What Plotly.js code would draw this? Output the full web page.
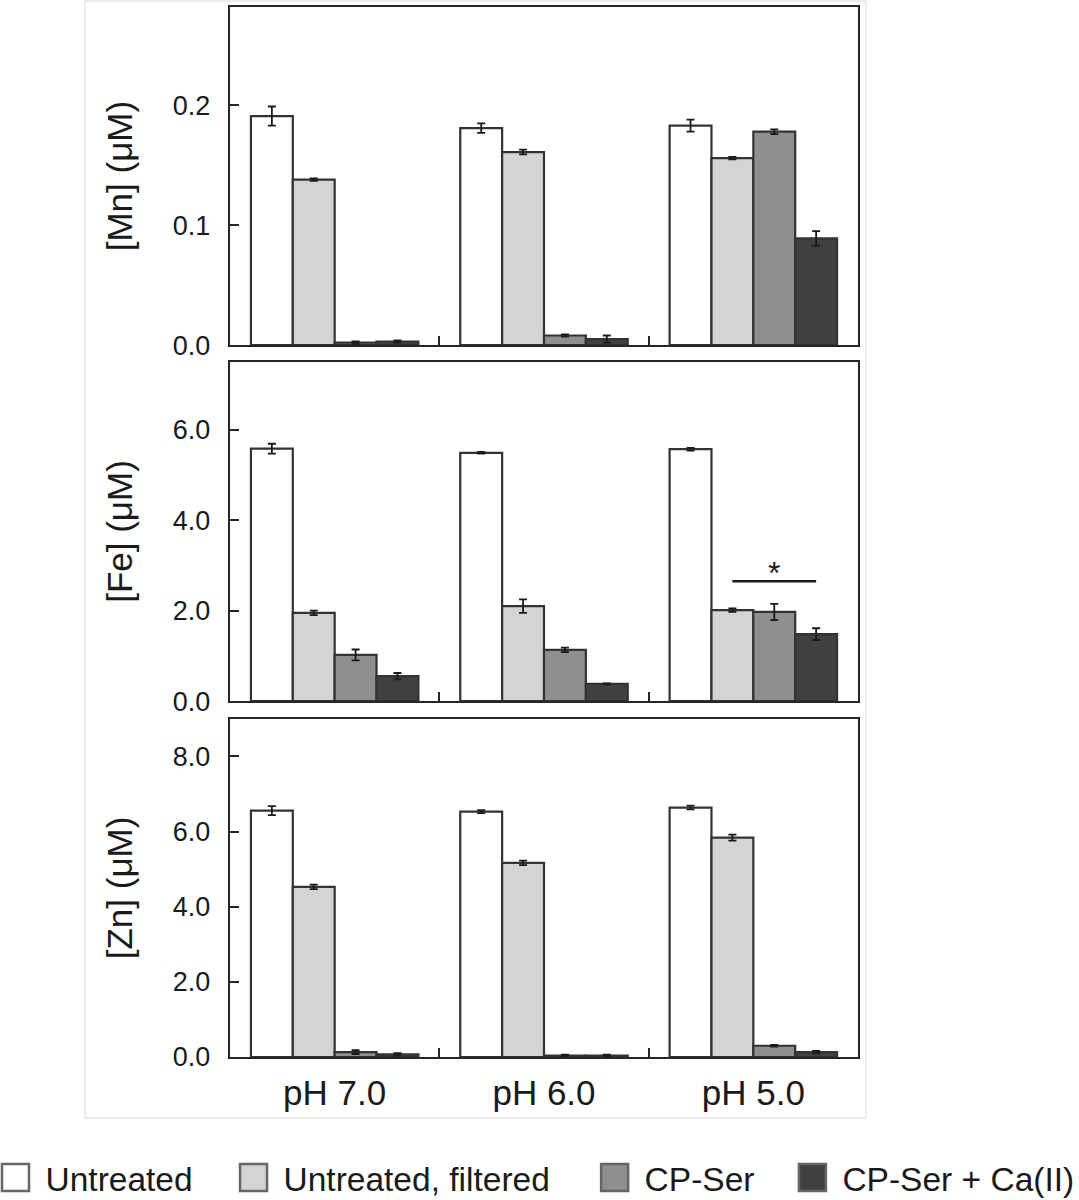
<!DOCTYPE html>
<html>
<head>
<meta charset="utf-8">
<script src="https://cdn.plot.ly/plotly-3.0.1.min.js"></script>
<style>
  html, body { margin: 0; padding: 0; background: #fff; }
  #chart { width: 1079px; height: 1200px; }
</style>
</head>
<body>
<div id="chart"></div>
<script>
// categories and series
var categories = ['pH 7.0', 'pH 6.0', 'pH 5.0'];
var seriesNames = ['Untreated', 'Untreated, filtered', 'CP-Ser', 'CP-Ser + Ca(II)'];
var seriesColors = ['#ffffff', '#d4d4d4', '#8f8f8f', '#404040'];

// [Mn] (uM), one row per series, columns follow categories
var mnMean = [
    [0.191, 0.181, 0.183],
    [0.138, 0.161, 0.156],
    [0.002, 0.008, 0.178],
    [0.003, 0.005, 0.089]
];
var mnErr = [
    [0.008, 0.004, 0.005],
    [0.001, 0.002, 0.001],
    [0.001, 0.001, 0.002],
    [0.001, 0.003, 0.006]
];

// [Fe] (uM)
var feMean = [
    [5.58, 5.49, 5.57],
    [1.95, 2.10, 2.01],
    [1.02, 1.13, 1.97],
    [0.55, 0.38, 1.48]
];
var feErr = [
    [0.11, 0.02, 0.03],
    [0.05, 0.15, 0.04],
    [0.12, 0.05, 0.18],
    [0.07, 0.01, 0.13]
];

// [Zn] (uM)
var znMean = [
    [6.56, 6.53, 6.64],
    [4.53, 5.17, 5.84],
    [0.13, 0.04, 0.30],
    [0.07, 0.04, 0.13]
];
var znErr = [
    [0.12, 0.04, 0.05],
    [0.06, 0.06, 0.08],
    [0.05, 0.02, 0.02],
    [0.03, 0.02, 0.03]
];

// significance bracket in the Fe panel (pH 5.0, filtered vs CP-Ser + Ca)
var sigFrom = 1.9;
var sigTo = 2.3;
var sigLevel = 2.65;

var fontFamily = 'Arial, "Liberation Sans", Helvetica, sans-serif';
var ink = '#262626';

function panelTraces(means, errs, xa, ya, withLegend) {
    return means.map(function (vals, i) {
        return {
            type: 'bar',
            name: seriesNames[i],
            x: categories,
            y: vals,
            xaxis: xa,
            yaxis: ya,
            legend: i === 0 ? 'legend' : 'legend' + (i + 1),
            showlegend: withLegend,
            marker: { color: seriesColors[i], line: { color: '#333333', width: 2.2 } },
            error_y: { type: 'data', array: errs[i], visible: true, color: '#1a1a1a', thickness: 1.8, width: 4 },
            hovertemplate: seriesNames[i] + '<br>%{x}: %{y}<extra></extra>'
        };
    });
}

var data = []
    .concat(panelTraces(mnMean, mnErr, 'x', 'y', true))
    .concat(panelTraces(feMean, feErr, 'x2', 'y2', false))
    .concat(panelTraces(znMean, znErr, 'x3', 'y3', false));

function xAxis(showLabels, anchor) {
    return {
        anchor: anchor,
        type: 'category',
        range: [-0.5, 2.5],
        showline: true,
        mirror: true,
        linecolor: ink,
        linewidth: 2.2,
        ticks: 'inside',
        tickson: 'boundaries',
        ticklen: 9,
        tickwidth: 2,
        tickcolor: ink,
        showticklabels: showLabels,
        ticklabelstandoff: 4,
        tickfont: { family: fontFamily, size: 35, color: '#1a1a1a' },
        showgrid: false,
        zeroline: false,
        fixedrange: true
    };
}

function yAxis(title, range, vals, fmt, domain, anchor) {
    return {
        anchor: anchor,
        domain: domain,
        range: range,
        tickvals: vals,
        tickformat: fmt,
        showline: true,
        mirror: true,
        linecolor: ink,
        linewidth: 2.2,
        ticks: 'inside',
        ticklen: 9,
        tickwidth: 2,
        tickcolor: ink,
        ticklabelstandoff: 12,
        tickfont: { family: fontFamily, size: 27, color: '#1a1a1a' },
        title: { text: title, font: { family: fontFamily, size: 35, color: '#1a1a1a' }, standoff: 30 },
        showgrid: false,
        zeroline: false,
        fixedrange: true
    };
}

function legendAt(x) {
    return {
        orientation: 'h',
        x: x,
        xanchor: 'left',
        y: -0.115,
        yanchor: 'middle',
        itemwidth: 41,
        bgcolor: 'rgba(0,0,0,0)',
        borderwidth: 0,
        font: { family: fontFamily, size: 33.5, color: '#1a1a1a' }
    };
}

var layout = {
    width: 1079,
    height: 1200,
    margin: { l: 230, r: 221, t: 7, b: 143, autoexpand: false },
    paper_bgcolor: '#ffffff',
    plot_bgcolor: '#ffffff',
    barmode: 'group',
    bargap: 0.2,
    bargroupgap: 0,
    font: { family: fontFamily, color: '#1a1a1a' },
    xaxis: xAxis(false, 'y'),
    xaxis2: xAxis(false, 'y2'),
    xaxis3: xAxis(true, 'y3'),
    yaxis: yAxis('[Mn] (\u03bcM)', [0, 0.282], [0, 0.1, 0.2], '.1f', [0.678, 1], 'x'),
    yaxis2: yAxis('[Fe] (\u03bcM)', [0, 7.5], [0, 2, 4, 6], '.1f', [0.339, 0.662], 'x2'),
    yaxis3: yAxis('[Zn] (\u03bcM)', [0, 9.0], [0, 2, 4, 6, 8], '.1f', [0, 0.322], 'x3'),
    legend: legendAt(-0.375),
    legend2: legendAt(0.004),
    legend3: legendAt(0.579),
    legend4: legendAt(0.894),
    shapes: [
        {
            type: 'rect', xref: 'paper', yref: 'paper',
            x0: -0.2309, x1: 1.0127, y0: -0.0581, y1: 1.0057,
            line: { color: '#e6e6e6', width: 1.5 },
            layer: 'below'
        },
        {
            type: 'line', xref: 'x2', yref: 'y2',
            x0: sigFrom, x1: sigTo, y0: sigLevel, y1: sigLevel,
            line: { color: '#1a1a1a', width: 2.5 }
        }
    ],
    annotations: [
        {
            xref: 'x2', yref: 'y2',
            x: (sigFrom + sigTo) / 2, y: sigLevel,
            text: '*', showarrow: false,
            xanchor: 'center', yanchor: 'bottom', yshift: -12,
            font: { family: fontFamily, size: 32, color: '#1a1a1a' }
        }
    ]
};

var config = { staticPlot: true, displayModeBar: false };

Plotly.newPlot('chart', data, layout, config).then(function (gd) {
    // bigger legend swatches, like the original figure key
    var swatches = gd.querySelectorAll('g.legendpoints path');
    swatches.forEach(function (p) {
        p.setAttribute('d', 'M9,13.5H-18V-13.5H9Z');
        p.style.strokeWidth = '2.5px';
        p.style.stroke = '#666666';
    });
});
</script>
</body>
</html>
